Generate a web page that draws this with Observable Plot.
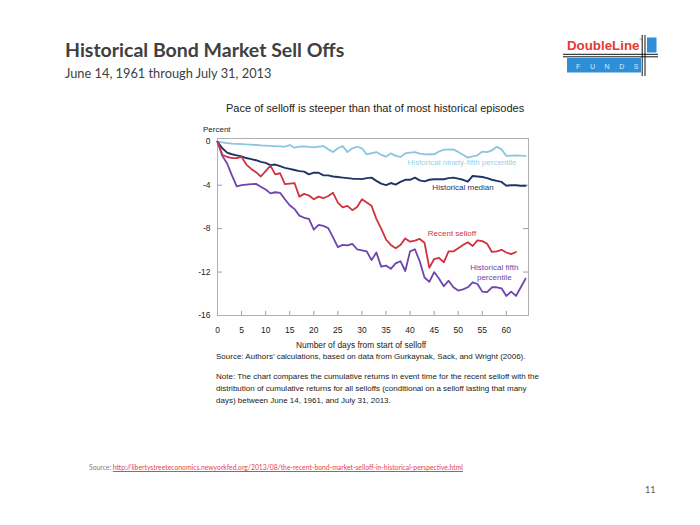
<!DOCTYPE html>
<html>
<head>
<meta charset="utf-8">
<script src="https://cdn.jsdelivr.net/npm/d3@7"></script>
<script src="https://cdn.jsdelivr.net/npm/@observablehq/plot@0.6"></script>
<style>
  html, body { margin: 0; padding: 0; background: #fff; }
  #page { position: relative; width: 700px; height: 525px; overflow: hidden; background: #fff; }
  .abs { position: absolute; white-space: nowrap; line-height: 1; }
  .hdr { font-family: Lato, "Open Sans", sans-serif; color: #404040; }
  .ch { font-family: "Liberation Sans", Arial, sans-serif; color: #222; }
  #chart { position: absolute; left: 180px; top: 120px; }
</style>
</head>
<body>
<div id="page">
  <div class="abs hdr" style="left:65px; top:40px; font-size:19.5px; font-weight:700;">Historical Bond Market Sell Offs</div>
  <div class="abs hdr" style="left:65px; top:67px; font-size:12.8px;">June 14, 1961 through July 31, 2013</div>

  <svg class="abs" style="left:560px; top:30px;" width="100" height="50" viewBox="0 0 100 50">
    <rect x="7" y="28" width="74" height="14.5" fill="#2e8fd6"/>
    <rect x="87" y="7.5" width="9.5" height="15" fill="#2e8fd6"/>
    <text x="7" y="20" font-family="Liberation Sans, Arial, sans-serif" font-weight="700" font-size="13.3" fill="#e23a35">DoubleLine<tspan font-size="4" font-weight="400" dy="-9">®</tspan></text>
    <text x="16" y="38.5" font-family="Liberation Sans, Arial, sans-serif" font-size="7" fill="#d8ecfa" letter-spacing="9.6">FUNDS</text>
    <line x1="3" y1="24.3" x2="98" y2="24.3" stroke="#111" stroke-width="1"/>
    <line x1="3" y1="26.8" x2="98" y2="26.8" stroke="#111" stroke-width="1"/>
    <line x1="82.2" y1="5" x2="82.2" y2="46" stroke="#111" stroke-width="1"/>
    <line x1="85" y1="5" x2="85" y2="46" stroke="#111" stroke-width="1"/>
  </svg>

  <div class="abs ch" style="left:226px; top:103px; font-size:11px;">Pace of selloff is steeper than that of most historical episodes</div>
  <div class="abs ch" style="left:203px; top:126px; font-size:8px;">Percent</div>
  <div id="chart"></div>
  <div class="abs ch" style="left:296px; top:341px; font-size:8.4px;">Number of days from start of selloff</div>
  <div class="abs ch" style="left:216px; top:353px; font-size:8px;">Source: Authors’ calculations, based on data from Gurkaynak, Sack, and Wright (2006).</div>
  <div class="abs ch" style="left:216px; top:371px; font-size:8px; line-height:12px;">Note: The chart compares the cumulative returns in event time for the recent selloff with the<br>distribution of cumulative returns for all selloffs (conditional on a selloff lasting that many<br>days) between June 14, 1961, and July 31, 2013.</div>

  <div class="abs hdr" style="left:89px; top:464px; font-size:6.8px; color:#7f7f7f;">Source: <span style="color:#e0464b; text-decoration:underline;">http://libertystreeteconomics.newyorkfed.org/2013/08/the-recent-bond-market-selloff-in-historical-perspective.html</span></div>
  <div class="abs hdr" style="left:645px; top:485px; font-size:9px; color:#595959;">11</div>
</div>
<script>
// Days from start of selloff
const days = d3.range(0, 65);
// Historical ninety-fifth percentile (percent)
const p95 = [0, -0.05, -0.12, -0.18, -0.2, -0.22, -0.25, -0.27, -0.3, -0.33, -0.35, -0.38, -0.4, -0.42, -0.45, -0.3,
  -0.55, -0.45, -0.42, -0.48, -0.52, -0.45, -0.4, -0.7, -0.95, -0.6, -0.4, -0.95, -0.6, -0.46, -0.6, -1.16,
  -1.05, -0.95, -1.2, -1.37, -1.07, -1.3, -1.4, -1.07, -1.0, -0.95, -1.1, -1.16, -1.15, -1.16, -0.9, -0.72,
  -0.72, -0.7, -0.95, -1.2, -1.46, -1.35, -1.25, -0.9, -0.95, -0.8, -0.46, -0.7, -1.3, -1.27, -1.25, -1.28, -1.3];
// Historical median
const median = [0, -0.6, -1.0, -1.15, -1.25, -1.35, -1.5, -1.6, -1.7, -1.85, -1.95, -2.15, -2.1, -2.25, -2.4, -2.5,
  -2.6, -2.7, -2.75, -3.0, -2.85, -2.85, -3.1, -3.1, -3.2, -3.25, -3.3, -3.35, -3.4, -3.42, -3.44, -3.35,
  -3.3, -3.6, -3.85, -4.0, -3.8, -3.95, -3.7, -3.5, -3.5, -3.3, -3.55, -3.65, -3.5, -3.45, -3.45, -3.45,
  -3.35, -3.3, -3.4, -3.5, -3.68, -3.15, -3.2, -3.25, -3.35, -3.5, -3.6, -3.7, -4.05, -4.0, -4.0, -4.05, -4.05];
// Historical fifth percentile
const p5 = [0, -1.3, -2.0, -3.1, -4.1, -4.0, -3.95, -3.9, -3.88, -4.15, -4.4, -4.75, -4.65, -4.7, -5.3, -5.85,
  -6.2, -6.8, -7.0, -7.1, -8.1, -7.65, -7.75, -7.95, -8.8, -9.7, -9.5, -9.55, -9.4, -9.9, -10.0, -10.1,
  -10.9, -10.2, -11.5, -11.4, -11.7, -11.2, -11.0, -11.9, -10.1, -9.9, -11.0, -12.5, -12.9, -12.0, -12.6, -13.3,
  -12.8, -13.4, -13.7, -13.6, -13.4, -12.95, -13.1, -13.8, -13.85, -13.4, -13.4, -13.5, -14.2, -13.8, -14.2, -13.4, -12.6];
// Recent selloff (2013), days 0..62
const recent = [0, -1.2, -1.4, -1.5, -1.5, -1.4, -2.1, -2.5, -2.8, -3.2, -2.7, -2.2, -3.0, -2.9, -3.9, -3.85,
  -3.8, -5.05, -4.8, -4.95, -5.3, -5.05, -5.2, -5.0, -4.7, -5.6, -6.05, -5.9, -6.3, -6.0, -5.3, -5.6,
  -5.9, -7.1, -8.0, -9.0, -9.5, -9.8, -9.5, -8.9, -9.2, -9.1, -8.95, -9.3, -11.6, -10.8, -10.7, -11.1,
  -10.1, -10.1, -9.8, -9.5, -9.25, -9.6, -9.08, -9.15, -9.4, -10.15, -10.1, -9.95, -10.2, -10.35, -10.15];
const xTicks = [0, 5, 10, 15, 20, 25, 30, 35, 40, 45, 50, 55, 60];
const yTicks = [0, -4, -8, -12, -16];

const rows = (vals) => vals.map((v, i) => ({day: days[i], value: v}));

const chart = Plot.plot({
  width: 360,
  height: 240,
  marginLeft: 37,
  marginRight: 12,
  marginTop: 18,
  marginBottom: 45,
  x: {domain: [0, 64.6]},
  y: {domain: [-16, 0.3]},
  style: {fontFamily: "Liberation Sans, Arial, sans-serif", fontSize: "8.5px", color: "#222", background: "transparent"},
  marks: [
    Plot.frame({stroke: "#b0b0b0"}),
    Plot.axisX({ticks: xTicks, tickSize: 0, tickPadding: 11.5, label: null, tickFormat: d => String(d)}),
    Plot.axisY({ticks: yTicks, tickSize: 0, tickPadding: 7, label: null, tickFormat: d => String(d)}),
    Plot.ruleX(xTicks.slice(1), {x: d => d, y1: -16, y2: -15.62, stroke: "#a0a0a0"}),
    Plot.ruleY(yTicks.slice(1, -1), {y: d => d, x1: 0, x2: 1.05, stroke: "#a0a0a0"}),
    Plot.ruleY(yTicks.slice(1, -1), {y: d => d, x1: 63.55, x2: 64.6, stroke: "#a0a0a0"}),
    Plot.line(rows(p95), {x: "day", y: "value", stroke: "#8ac6dd", strokeWidth: 1.8}),
    Plot.line(rows(median), {x: "day", y: "value", stroke: "#1f3566", strokeWidth: 1.9}),
    Plot.line(rows(p5), {x: "day", y: "value", stroke: "#6e45ad", strokeWidth: 1.8}),
    Plot.line(rows(recent), {x: "day", y: "value", stroke: "#d0323f", strokeWidth: 1.8}),
    Plot.text(["Historical ninety-fifth percentile"], {x: 50.8, y: -1.9, text: d => d, fill: "#9ccfe4", fontSize: 8}),
    Plot.text(["Historical median"], {x: 51.0, y: -4.25, text: d => d, fill: "#1f3566", fontSize: 8}),
    Plot.text(["Recent selloff"], {x: 48.7, y: -8.45, text: d => d, fill: "#d0323f", fontSize: 8}),
    Plot.text(["Historical fifth\npercentile"], {x: 57.5, y: -11.95, text: d => d, fill: "#6e45ad", fontSize: 8, lineHeight: 1.3})
  ]
});
document.getElementById("chart").appendChild(chart);
</script>
</body>
</html>
